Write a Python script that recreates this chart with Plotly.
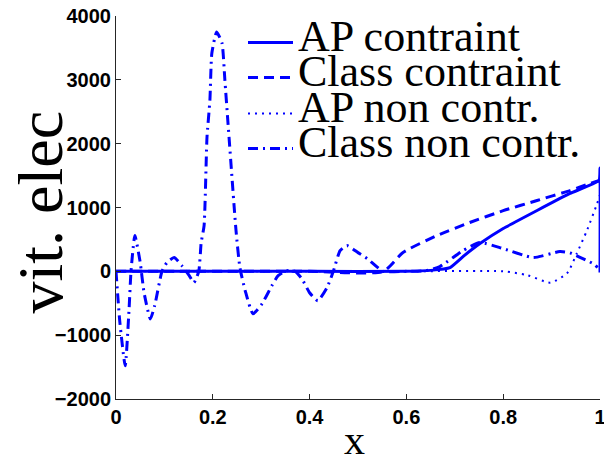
import plotly.graph_objects as go

# ---- data ----
x_ap_c = [0.0, 0.2, 0.4, 0.6, 0.65, 0.69, 0.72, 0.752, 0.8, 0.87, 0.938, 0.998, 1.0, 1.0]
v_ap_c = [0, 0, 0, 0, 15, 58, 250, 435, 670, 953, 1220, 1424, 1620, -20]

x_cl_c = [0.0, 0.2, 0.4, 0.552, 0.593, 0.663, 0.731, 0.8, 0.87, 0.938, 0.979, 1.0]
v_cl_c = [0, 0, 0, 0, 295, 560, 765, 950, 1110, 1265, 1375, 1424]

x_ap_nc = [0.0, 0.2, 0.4, 0.6, 0.8, 0.85, 0.897, 0.932, 0.952, 0.973, 0.994, 1.0]
v_ap_nc = [0, 0, 0, 0, 0, -60, -177, -30, 280, 640, 1060, 1200]

x_cl_nc = [0.0, 0.008, 0.019, 0.027, 0.031, 0.039, 0.05, 0.058, 0.071, 0.08, 0.095,
           0.105, 0.12, 0.136, 0.151, 0.161, 0.171, 0.176, 0.182, 0.188, 0.194, 0.198,
           0.208, 0.219, 0.225, 0.231, 0.248, 0.256, 0.267, 0.283, 0.302, 0.322, 0.335,
           0.353, 0.37, 0.384, 0.4, 0.417, 0.436, 0.449, 0.463, 0.477, 0.5, 0.519, 0.552,
           0.6, 0.64, 0.669, 0.717, 0.752, 0.8, 0.862, 0.917, 0.938, 0.973, 0.986, 0.995]
v_cl_nc = [0, -800, -1480, -590, 0, 560, 140, -335, -745, -535, 0,
           135, 215, 90, -65, -177, 0, 450, 717, 2100, 2680, 3416,
           3750, 3575, 2990, 2366, 636, 58, -305, -665, -505, -225, -68,
           10, 0, -115, -335, -460, -255, 0, 325, 403, 293, 200, 0,
           0, 10, 75, 325, 450, 356, 215, 310, 290, 168, 120, 60]

names = ["AP contraint", "Class contraint", "AP non contr.", "Class non contr."]

x_ticks = [0, 0.2, 0.4, 0.6, 0.8, 1]
x_tick_text = ["0", "0.2", "0.4", "0.6", "0.8", "1"]
y_ticks = [-2000, -1000, 0, 1000, 2000, 3000, 4000]
y_tick_text = ["\u22122000", "\u22121000", "0", "1000", "2000", "3000", "4000"]
x_title = "x"
y_title = "vit. elec"

BLUE = "rgb(0,0,255)"
serif = "Liberation Serif"


def leg_name(s):
    # lift the legend text a little above its line sample, as in the reference
    return f'<span style="baseline-shift:9px">{s}</span>'


fig = go.Figure()
fig.add_trace(go.Scatter(x=x_ap_c, y=v_ap_c, mode="lines", name=leg_name(names[0]),
                         line=dict(color=BLUE, width=3, shape="spline", smoothing=0.4),
                         cliponaxis=False, legend="legend"))
fig.add_trace(go.Scatter(x=x_cl_c, y=v_cl_c, mode="lines", name=leg_name(names[1]),
                         line=dict(color=BLUE, width=3, dash="10px,6px", shape="spline", smoothing=0.6),
                         cliponaxis=False, legend="legend2"))
fig.add_trace(go.Scatter(x=x_ap_nc, y=v_ap_nc, mode="lines", name=leg_name(names[2]),
                         line=dict(color=BLUE, width=2, dash="2px,5px", shape="spline", smoothing=0.6),
                         cliponaxis=False, legend="legend3"))
fig.add_trace(go.Scatter(x=x_cl_nc, y=v_cl_nc, mode="lines", name=leg_name(names[3]),
                         line=dict(color=BLUE, width=3, dash="10px,5px,2px,5px", shape="spline", smoothing=0.5),
                         cliponaxis=False, legend="legend4"))

W, H = 604, 455
L, R, T, B = 116, 4, 16, 56
PW, PH = W - L - R, H - T - B
leg_rows = [43, 78, 114, 149]
leg_common = dict(xref="paper", yref="paper", xanchor="left", yanchor="middle",
                  bgcolor="rgba(0,0,0,0)", borderwidth=0, itemwidth=45,
                  font=dict(family=serif, size=44, color="black"))
legends = {}
for i, yr in enumerate(leg_rows):
    key = "legend" if i == 0 else f"legend{i+1}"
    legends[key] = dict(x=(243 - L) / PW, y=(H - B - yr) / PH, **leg_common)

axis_common = dict(showline=True, linecolor="#262626", linewidth=1, ticks="inside",
                   ticklen=5, tickcolor="#262626", showgrid=False, zeroline=False,
                   automargin=False, ticklabeloverflow="allow",
                   tickfont=dict(family="Liberation Sans", size=20, color="black", weight="bold"))

fig.update_layout(
    width=W, height=H,
    margin=dict(l=L, r=R, t=T, b=B, autoexpand=False),
    paper_bgcolor="white", plot_bgcolor="white",
    showlegend=True,
    xaxis=dict(range=[0, 1], tickvals=x_ticks, ticktext=x_tick_text, **axis_common),
    yaxis=dict(range=[-2000, 4000], tickvals=y_ticks, ticktext=y_tick_text, **axis_common),
    annotations=[
        dict(text=y_title, xref="paper", yref="paper",
             x=(40 - L) / PW, y=(H - B - 212.5) / PH,
             xanchor="center", yanchor="middle",
             textangle=-90, showarrow=False,
             font=dict(family=serif, size=64, color="black")),
        dict(text=x_title, xref="paper", yref="paper",
             x=(354 - L) / PW, y=(H - B - 440) / PH,
             xanchor="center", yanchor="middle", showarrow=False,
             font=dict(family=serif, size=42, color="black")),
    ],
    **legends,
)

fig.write_html("out.html")
